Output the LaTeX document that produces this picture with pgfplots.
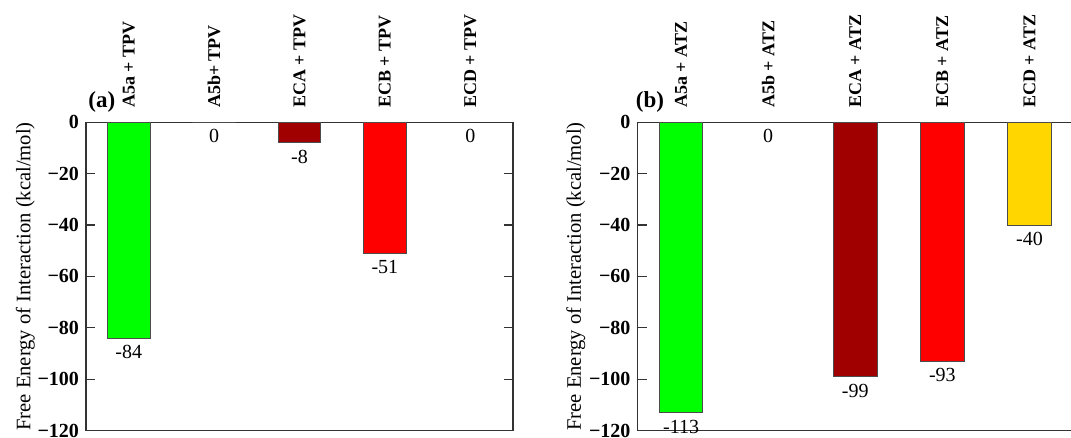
\documentclass[border=0pt]{standalone}
\usepackage{pgfplots}
\pgfplotsset{compat=1.18}
\usepackage{fontspec}
\setmainfont{Liberation Serif}
\definecolor{cgreen}{RGB}{0,255,0}
\definecolor{cdred}{RGB}{160,0,0}
\definecolor{cred}{RGB}{255,0,0}
\definecolor{cgold}{RGB}{255,214,0}
\pgfplotsset{
  panel/.style={
    scale only axis,
    height=154.25pt,
    ymin=-120, ymax=0,
    xmin=-0.5, xmax=4.5,
    clip=false,
    axis line style={black!80, line width=0.6pt},
    ytick={-120,-100,-80,-60,-40,-20,0},
    yticklabels={\textbf{−120},\textbf{−100},\textbf{−80},\textbf{−60},\textbf{−40},\textbf{−20},\textbf{0}},
    yticklabel style={font=\fontsize{10}{12}\selectfont},
    major tick length=4.5pt,
    ytick style={black!80, line width=0.6pt},
    xtick={0,1,2,3,4},
    xticklabel pos=upper,
    xtick style={draw=none},
    xticklabel style={font=\fontsize{9}{11}\selectfont\bfseries, rotate=90, anchor=west, inner sep=0pt},
    xticklabel shift=7pt,
    ylabel={Free Energy of Interaction (kcal/mol)},
    ylabel style={font=\fontsize{10.3}{12}\selectfont},
    ylabel shift=-5.5pt,
  },
  onebar/.style={
    ybar, bar width=0.5, bar shift=0pt,
    fill=#1, draw=black!70, line width=0.5pt,
    nodes near coords, point meta=explicit symbolic,
    every node near coord/.append style={anchor=north, font=\fontsize{10}{12}\selectfont, text=black},
  },
}
\begin{document}
\begin{tikzpicture}
\begin{axis}[panel, width=213.5pt, at={(0pt,0pt)}, anchor=south west,
  xticklabels={A5a + TPV, A5b+ TPV, ECA + TPV, ECB + TPV, ECD + TPV}]
\addplot[onebar=cgreen] coordinates {(0,-84) [-84]};
\addplot[onebar=white] coordinates {(1,0) [0]};
\addplot[onebar=cdred] coordinates {(2,-8) [-8]};
\addplot[onebar=cred] coordinates {(3,-51) [-51]};
\addplot[onebar=white, draw=none, fill=none] coordinates {(4,0) [0]};
\node[anchor=base west, font=\fontsize{11.5}{13}\selectfont\bfseries, inner sep=0pt, xshift=1pt, yshift=7.3pt] at (rel axis cs:0,1) {(a)};
\end{axis}
\begin{axis}[panel, width=217.75pt, at={(275.75pt,0pt)}, anchor=south west,
  ytick pos=left, ylabel shift=-5pt,
  xticklabels={A5a + ATZ, A5b + ATZ, ECA + ATZ, ECB + ATZ, ECD + ATZ}]
\addplot[onebar=cgreen] coordinates {(0,-113) [-113]};
\addplot[onebar=white, draw=none, fill=none] coordinates {(1,0) [0]};
\addplot[onebar=cdred] coordinates {(2,-99) [-99]};
\addplot[onebar=cred] coordinates {(3,-93) [-93]};
\addplot[onebar=cgold] coordinates {(4,-40) [-40]};
\node[anchor=base west, font=\fontsize{11.5}{13}\selectfont\bfseries, inner sep=0pt, xshift=-1pt, yshift=7.3pt] at (rel axis cs:0,1) {(b)};
\end{axis}
\pgfresetboundingbox
\useasboundingbox (-43pt,-3.65pt) rectangle (492.5pt,215.35pt);
\end{tikzpicture}
\end{document}
